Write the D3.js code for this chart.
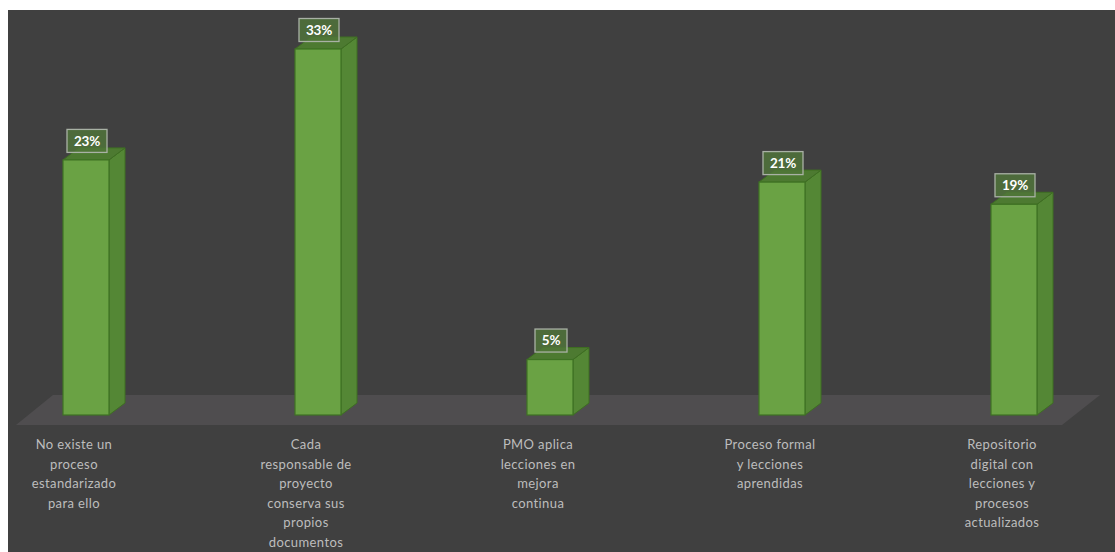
<!DOCTYPE html>
<html><head><meta charset="utf-8">
<script src="https://cdn.jsdelivr.net/npm/d3@7/dist/d3.min.js"></script>
<style>body{margin:0;background:#fff}svg{display:block}</style>
</head><body><svg id="c" width="1115" height="552"></svg>
<script>
const categories = [
  ["No existe un","proceso","estandarizado","para ello"],
  ["Cada","responsable de","proyecto","conserva sus","propios","documentos"],
  ["PMO aplica","lecciones en","mejora","continua"],
  ["Proceso formal","y lecciones","aprendidas"],
  ["Repositorio","digital con","lecciones y","procesos","actualizados"]
];
const values = [23, 33, 5, 21, 19];
const valueLabels = ["23%","33%","5%","21%","19%"];

const svg = d3.select("#c");
svg.append("rect").attr("x",8).attr("y",10).attr("width",1107).attr("height",542).attr("fill","#404040");

const idx = d3.range(values.length);
const x = d3.scalePoint().domain(idx).range([86, 1014]);
const y = d3.scaleLinear().domain([0, 33]).range([415, 49]);
const bw = 46, dx = 16, dy = -12;

// floor
svg.append("polygon")
  .attr("points", [[16,425],[53,395],[1100,395],[1062,425]].map(p=>p.join(",")).join(" "))
  .attr("fill","#4f4d4f");

const g = svg.append("g").selectAll("g").data(idx).join("g");
const L = i => x(i) - bw/2, R = i => x(i) + bw/2, T = i => y(values[i]), B = y(0);
// side
g.append("polygon").attr("points", i => [[R(i),T(i)],[R(i)+dx,T(i)+dy],[R(i)+dx,B+dy],[R(i),B]].map(p=>p.join(",")).join(" "))
  .attr("fill","#548735").attr("stroke","#3e6e22").attr("stroke-width",1);
// top
g.append("polygon").attr("points", i => [[L(i),T(i)],[L(i)+dx,T(i)+dy],[R(i)+dx,T(i)+dy],[R(i),T(i)]].map(p=>p.join(",")).join(" "))
  .attr("fill","#4d7a31").attr("stroke","#3e6e22").attr("stroke-width",1);
// front
g.append("rect").attr("x", L).attr("y", T).attr("width", bw).attr("height", i => B - T(i))
  .attr("fill","#6aa244").attr("stroke","#3f7224").attr("stroke-width",1.2);

// value labels
const lb = svg.append("g").selectAll("g").data(idx).join("g")
  .attr("transform", i => `translate(${x(i)+1},${T(i)-19})`);
lb.append("rect").attr("x", i => valueLabels[i].length > 2 ? -20 : -16).attr("y",-11.5)
  .attr("width", i => valueLabels[i].length > 2 ? 40 : 32).attr("height",23)
  .attr("fill","rgba(80,118,58,0.8)").attr("stroke","#a9b1a5").attr("stroke-width",1.3);
lb.append("text").attr("text-anchor","middle").attr("dy","0.36em")
  .attr("font-family","Lato, 'Open Sans', sans-serif").attr("font-weight","bold").attr("font-size",13.5)
  .attr("letter-spacing",-0.3)
  .attr("fill","#ffffff").text(i => valueLabels[i]);

// category labels
const ct = svg.append("g").selectAll("text").data(idx).join("text")
  .attr("text-anchor","middle").attr("font-family","Lato, 'Open Sans', sans-serif").attr("font-size",13)
  .attr("letter-spacing",0.4)
  .attr("fill","#bdbdbd");
ct.selectAll("tspan").data(i => categories[i].map(t => ({t, i}))).join("tspan")
  .attr("x", d => x(d.i) - 12).attr("y", (d, k) => 449 + k*19.5).text(d => d.t);
</script></body></html>
